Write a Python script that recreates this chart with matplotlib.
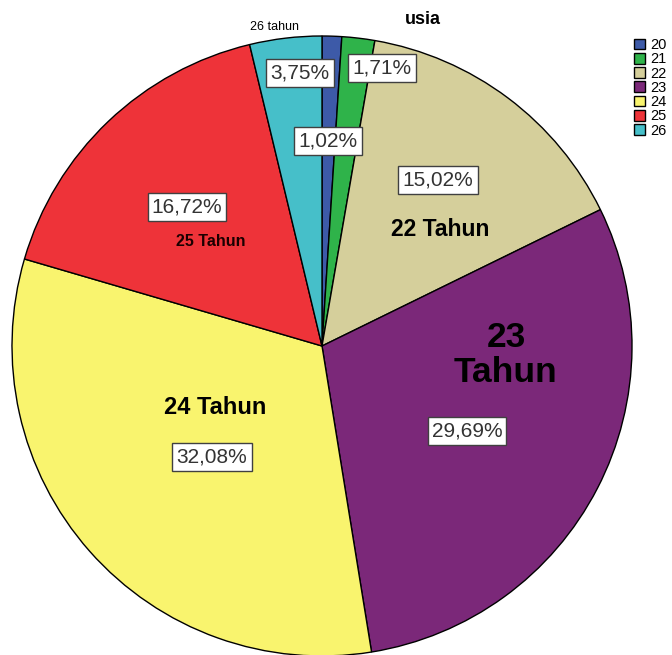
import matplotlib
matplotlib.use("Agg")
import matplotlib.pyplot as plt

plt.rcParams['font.family'] = ['Liberation Sans', 'DejaVu Sans']

# data
ages = ['20', '21', '22', '23', '24', '25', '26']
percents = [1.02, 1.71, 15.02, 29.69, 32.08, 16.72, 3.75]
colors = ['#3d5aa8', '#2fb34a', '#d5cf9b', '#7b2879', '#f9f46e', '#ee3339', '#46bfc9']

W, H = 672, 655

fig = plt.figure(figsize=(W / 100, H / 100), dpi=100)
ax = fig.add_axes([0, 0, 1, 1])

def py(y):  # pixel row -> data y
    return H - y

wedges, _ = ax.pie(percents, colors=colors, startangle=90, counterclock=False,
                   center=(322, py(346)), radius=310, frame=True,
                   wedgeprops=dict(edgecolor='black', linewidth=1))
ax.set_xlim(0, W)
ax.set_ylim(0, H)
ax.axis('off')

# percentage boxes
pct_pos = [(328, 141), (382, 68), (438, 180), (467, 431), (212, 457), (187, 207), (300, 73)]
box = dict(boxstyle='square,pad=0.2', facecolor='white', edgecolor='#404040', linewidth=1)
for p, (x, y) in zip(percents, pct_pos):
    ax.text(x, py(y), f'{p:.2f}%'.replace('.', ','), ha='center', va='center',
            fontsize=15, color='#333333', bbox=box, zorder=5)

# slice names
ax.text(440, py(229), '22 Tahun', ha='center', va='center', fontsize=16.5, fontweight='bold')
ax.text(506, py(355), '23\nTahun', ha='center', va='center', fontsize=25.5,
        fontweight='bold', linespacing=1.05)
ax.text(215, py(408), '24 Tahun', ha='center', va='center', fontsize=17, fontweight='bold')
ax.text(211, py(242), '25 Tahun', ha='center', va='center', fontsize=11.5,
        fontweight='bold', color='#1a0000')
ax.text(275, py(27), '26 tahun', ha='center', va='center', fontsize=9)

ax.text(423, py(20), 'usia', ha='center', va='center', fontsize=13, fontweight='bold')

ax.legend(wedges, ages, loc='upper left', bbox_to_anchor=(634 / W, 1 - 38 / H),
          frameon=False, fontsize=10.5, handlelength=0.75, handleheight=0.75,
          labelspacing=0.02, handletextpad=0.35, borderpad=0, borderaxespad=0)

fig.savefig('out.png', dpi=100)
